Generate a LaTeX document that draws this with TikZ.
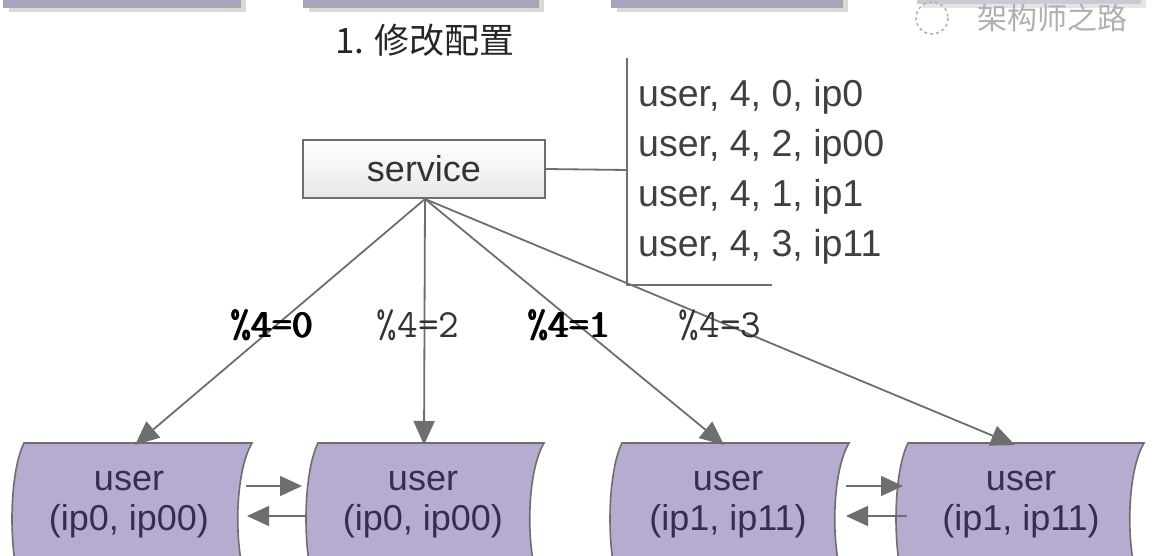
\documentclass[tikz,border=0pt]{standalone}
\usepackage{fontspec}
\setmainfont{Liberation Sans}
\newfontfamily\cjk{Noto Sans CJK SC}
\usetikzlibrary{arrows.meta}
\definecolor{linegray}{RGB}{110,110,110}
\definecolor{userfill}{RGB}{184,171,208}
\definecolor{usertext}{RGB}{55,45,80}
\definecolor{topfill}{RGB}{168,163,190}
\definecolor{wmgray}{RGB}{175,175,180}
\newcommand{\fakebold}[1]{\rlap{#1}\rlap{\kern0.8pt #1}\kern1.6pt #1}
\tikzset{
  conn/.style={draw=linegray, line width=1.8pt},
  arr/.style={conn, -{Triangle[length=24pt,width=21pt]}},
  harr/.style={draw=linegray, line width=1.5pt, -{Triangle[length=22pt,width=20pt]}},
  servicebox/.style={draw=linegray, line width=1.6pt, top color=white, bottom color=gray!18,
    minimum width=242pt, minimum height=58pt, inner sep=0pt, font=\fontsize{36}{40}\selectfont, text=black!80},
  listtext/.style={anchor=west, inner sep=0pt, font=\fontsize{37.5}{40}\selectfont, text=black!75},
  modlabel/.style={inner sep=0pt, font=\ttfamily\fontsize{40}{42}\selectfont, text=black!80},
  boldlabel/.style={modlabel, text=black},
  userbody/.style={draw=linegray, line width=1.6pt, fill=userfill},
  usertxt/.style={inner sep=0pt, align=center, font=\fontsize{36}{40}\selectfont, text=usertext},
  topbox/.style={draw=gray!70, line width=1.2pt, fill=topfill},
}
\begin{document}
\begin{tikzpicture}[x=1pt,y=-1pt]
\useasboundingbox (0,0) rectangle (1158,556);
\fill[white] (0,0) rectangle (1158,556);
\clip (0,0) rectangle (1158,556);

% partial boxes at top
\fill[gray!30] (9,-20) rectangle (246,12);
\fill[gray!30] (309,-20) rectangle (544,12);
\fill[gray!30] (617,-20) rectangle (848,12);
\fill[gray!20] (922,-20) rectangle (1146,8);
\draw[topbox] (4,-20) rectangle (240,7);
\draw[topbox] (304,-20) rectangle (538,7);
\draw[topbox] (612,-20) rectangle (842,7);
\draw[topbox, fill=topfill!60, draw=gray!40] (918,-20) rectangle (1140,3);

% watermark
\node[inner sep=0pt, text=wmgray, font=\cjk\fontsize{30}{32}\selectfont] (wm) at (1052,18) {架构师之路};
\draw[wmgray, line width=1.5pt, dashed] (932,18) circle (16);

% title
\node[inner sep=0pt, font=\cjk\fontsize{35}{38}\selectfont, text=black!85] (title) at (425,40) {1. 修改配置};

% service
\node[servicebox] (svc) at (424,169) {service};

% list bracket
\coordinate (vtop) at (627,58);
\coordinate (vmid) at (627,170);
\coordinate (vbot) at (627,285);
\coordinate (hend) at (772,285);
\draw[conn] (vtop) -- (vbot) -- (hend);
\draw[conn] (svc.east) -- (vmid);
\node[listtext] (l1) at (638,97) {user, 4, 0, ip0};
\node[listtext] (l2) at (638,147) {user, 4, 2, ip00};
\node[listtext] (l3) at (638,197) {user, 4, 1, ip1};
\node[listtext] (l4) at (638,247) {user, 4, 3, ip11};

% user boxes
\foreach \name/\L/\R in {u1/24/252, u2/318/544, u3/622/849, u4/908/1144}{
  \draw[userbody] (\L,443) -- (\R,443)
     .. controls (\R-19,475) and (\R-19,563) .. (\R,595)
     -- (\L,595)
     .. controls (\L-16,563) and (\L-16,475) .. (\L,443) -- cycle;
}
\node[usertxt] (u1) at (129,505) {user\\(ip0, ip00)};
\node[usertxt] (u2) at (423,505) {user\\(ip0, ip00)};
\node[usertxt] (u3) at (728,505) {user\\(ip1, ip11)};
\node[usertxt] (u4) at (1021,505) {user\\(ip1, ip11)};

% fan arrows
\coordinate (src) at (425,199);
\coordinate (t1) at (135,445);
\coordinate (t2) at (424,445);
\coordinate (t3) at (724,445);
\coordinate (t4) at (1015,445);
\draw[arr] (src) -- (t1);
\draw[arr] (src) -- (t2);
\draw[arr] (src) -- (t3);
\draw[arr] (src) -- (t4);

% modulo labels
\node[boldlabel] (m0) at (272,325) {\fakebold{\%4=0}};
\node[modlabel] (m2) at (418,325) {\%4=2};
\node[boldlabel] (m1) at (569,325) {\fakebold{\%4=1}};
\node[modlabel] (m3) at (720,325) {\%4=3};

% horizontal arrows
\coordinate (a1s) at (246,486); \coordinate (a1e) at (302,486);
\coordinate (a2s) at (306,516); \coordinate (a2e) at (247,516);
\coordinate (a3s) at (846,486); \coordinate (a3e) at (903,486);
\coordinate (a4s) at (907,516); \coordinate (a4e) at (846,516);
\draw[harr] (a1s) -- (a1e);
\draw[harr] (a2s) -- (a2e);
\draw[harr] (a3s) -- (a3e);
\draw[harr] (a4s) -- (a4e);
\end{tikzpicture}
\end{document}
